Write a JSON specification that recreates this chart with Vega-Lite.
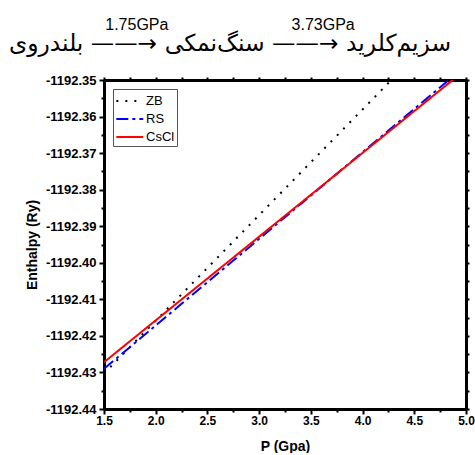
{
  "$schema": "https://vega.github.io/schema/vega-lite/v6.json",
  "width": 362,
  "height": 329,
  "padding": {"left": 8, "top": 17, "right": 5, "bottom": 0},
  "background": "white",
  "title": {
    "text": "1.75GPa\u2003\u2003\u2003\u2003\u2003\u2003\u2003\u2002\u20093.73GPa\u2003\u2003\u2003\u2002\u2005\u2009",
    "subtitle": "بلندروی \u200e——→\u200e سنگ‌نمکی \u200e——→\u200e سزیم‌کلرید",
    "anchor": "middle",
    "frame": "group",
    "dx": -55,
    "font": "Liberation Sans",
    "fontSize": 16,
    "fontWeight": "normal",
    "color": "black",
    "subtitleFont": "DejaVu Sans",
    "subtitleFontSize": 23.4,
    "subtitleColor": "black",
    "subtitlePadding": 0,
    "offset": 1
  },
  "config": {
    "view": {"stroke": null},
    "axis": {
      "domainColor": "black",
      "domainWidth": 3,
      "tickColor": "black",
      "tickWidth": 2,
      "labelFont": "Liberation Sans",
      "labelFontWeight": "bold",
      "labelFontSize": 12,
      "labelColor": "black",
      "labelFlush": false,
      "titleFont": "Liberation Sans",
      "titleFontWeight": "bold",
      "titleFontSize": 14,
      "titleColor": "black",
      "grid": false,
      "labelPadding": 1
    },
    "legend": {
      "labelFont": "Liberation Sans",
      "labelFontSize": 13,
      "labelColor": "black",
      "strokeColor": "#555555"
    }
  },
  "resolve": {"axis": {"x": "independent", "y": "independent"}},
  "data": {
    "values": [
      {"P": 1.5, "H": -1192.4303, "phase": "ZB"},
      {"P": 1.75, "H": -1192.42308, "phase": "ZB"},
      {"P": 2.0, "H": -1192.41585, "phase": "ZB"},
      {"P": 2.25, "H": -1192.40863, "phase": "ZB"},
      {"P": 2.5, "H": -1192.4014, "phase": "ZB"},
      {"P": 2.75, "H": -1192.39418, "phase": "ZB"},
      {"P": 3.0, "H": -1192.38695, "phase": "ZB"},
      {"P": 3.25, "H": -1192.37973, "phase": "ZB"},
      {"P": 3.5, "H": -1192.3725, "phase": "ZB"},
      {"P": 3.75, "H": -1192.36528, "phase": "ZB"},
      {"P": 4.0, "H": -1192.35805, "phase": "ZB"},
      {"P": 4.25, "H": -1192.35083, "phase": "ZB"},
      {"P": 4.5, "H": -1192.3436, "phase": "ZB"},
      {"P": 1.5, "H": -1192.429, "phase": "RS"},
      {"P": 1.75, "H": -1192.42308, "phase": "RS"},
      {"P": 2.0, "H": -1192.41715, "phase": "RS"},
      {"P": 2.25, "H": -1192.41123, "phase": "RS"},
      {"P": 2.5, "H": -1192.4053, "phase": "RS"},
      {"P": 2.75, "H": -1192.39938, "phase": "RS"},
      {"P": 3.0, "H": -1192.39345, "phase": "RS"},
      {"P": 3.25, "H": -1192.38753, "phase": "RS"},
      {"P": 3.5, "H": -1192.3816, "phase": "RS"},
      {"P": 3.75, "H": -1192.37568, "phase": "RS"},
      {"P": 4.0, "H": -1192.36975, "phase": "RS"},
      {"P": 4.25, "H": -1192.36383, "phase": "RS"},
      {"P": 4.5, "H": -1192.3579, "phase": "RS"},
      {"P": 4.75, "H": -1192.35198, "phase": "RS"},
      {"P": 5.0, "H": -1192.34605, "phase": "RS"},
      {"P": 1.5, "H": -1192.4272, "phase": "CsCl"},
      {"P": 1.75, "H": -1192.42148, "phase": "CsCl"},
      {"P": 2.0, "H": -1192.41575, "phase": "CsCl"},
      {"P": 2.25, "H": -1192.41003, "phase": "CsCl"},
      {"P": 2.5, "H": -1192.4043, "phase": "CsCl"},
      {"P": 2.75, "H": -1192.39858, "phase": "CsCl"},
      {"P": 3.0, "H": -1192.39285, "phase": "CsCl"},
      {"P": 3.25, "H": -1192.38713, "phase": "CsCl"},
      {"P": 3.5, "H": -1192.3814, "phase": "CsCl"},
      {"P": 3.75, "H": -1192.37568, "phase": "CsCl"},
      {"P": 4.0, "H": -1192.36995, "phase": "CsCl"},
      {"P": 4.25, "H": -1192.36423, "phase": "CsCl"},
      {"P": 4.5, "H": -1192.3585, "phase": "CsCl"},
      {"P": 4.75, "H": -1192.35278, "phase": "CsCl"},
      {"P": 5.0, "H": -1192.34705, "phase": "CsCl"}
    ]
  },
  "layer": [
    {
      "mark": {"type": "line", "clip": true, "strokeWidth": 2},
      "encoding": {
        "x": {
          "field": "P", "type": "quantitative",
          "scale": {"domain": [1.5, 5.0], "nice": false, "zero": false},
          "axis": {
            "orient": "bottom",
            "title": "P (Gpa)",
            "values": [1.5, 2.0, 2.5, 3.0, 3.5, 4.0, 4.5, 5.0],
            "format": ".1f",
            "tickSize": 5,
            "titlePadding": 13
          }
        },
        "y": {
          "field": "H", "type": "quantitative",
          "scale": {"domain": [-1192.44, -1192.35], "nice": false, "zero": false},
          "axis": {
            "orient": "left",
            "title": "Enthalpy (Ry)",
            "values": [-1192.44, -1192.43, -1192.42, -1192.41, -1192.4, -1192.39, -1192.38, -1192.37, -1192.36, -1192.35],
            "labelExpr": "'-' + format(abs(datum.value), '.2f')",
            "labelFontSize": 13,
            "labelPadding": 3,
            "tickSize": 5,
            "titlePadding": 6
          }
        },
        "color": {
          "field": "phase", "type": "nominal",
          "scale": {"domain": ["ZB", "RS", "CsCl"], "range": ["black", "blue", "red"]},
          "legend": {
            "title": null,
            "orient": "top-left",
            "offset": 9,
            "symbolType": "M-1,0H2.1",
            "symbolSize": 300,
            "symbolStrokeWidth": 2,
            "padding": 2,
            "rowPadding": 1,
            "labelOffset": 11
          }
        },
        "strokeDash": {
          "field": "phase", "type": "nominal",
          "scale": {"domain": ["ZB", "RS", "CsCl"], "range": [[2, 7], [12, 4, 3, 4], [1, 0]]},
          "legend": null
        }
      }
    },
    {
      "mark": {"type": "line", "strokeOpacity": 0},
      "encoding": {
        "x": {
          "field": "P", "type": "quantitative",
          "axis": {
            "orient": "top", "title": null, "labels": false,
            "values": [1.5, 1.75, 2.0, 2.25, 2.5, 2.75, 3.0, 3.25, 3.5, 3.75, 4.0, 4.25, 4.5, 4.75, 5.0],
            "tickSize": 3
          }
        },
        "y": {
          "field": "H", "type": "quantitative",
          "axis": {
            "orient": "right", "title": null, "labels": false,
            "values": [-1192.44, -1192.435, -1192.43, -1192.425, -1192.42, -1192.415, -1192.41, -1192.405, -1192.4, -1192.395, -1192.39, -1192.385, -1192.38, -1192.375, -1192.37, -1192.365, -1192.36, -1192.355, -1192.35],
            "tickSize": 3
          }
        },
        "detail": {"field": "phase", "type": "nominal"}
      }
    },
    {
      "mark": {"type": "line", "strokeOpacity": 0},
      "encoding": {
        "x": {
          "field": "P", "type": "quantitative",
          "axis": {
            "orient": "bottom", "title": null, "labels": false, "domain": false,
            "values": [1.75, 2.25, 2.75, 3.25, 3.75, 4.25, 4.75],
            "tickSize": 3
          }
        },
        "y": {
          "field": "H", "type": "quantitative",
          "axis": {
            "orient": "left", "title": null, "labels": false, "domain": false,
            "values": [-1192.435, -1192.425, -1192.415, -1192.405, -1192.395, -1192.385, -1192.375, -1192.365, -1192.355],
            "tickSize": 3
          }
        },
        "detail": {"field": "phase", "type": "nominal"}
      }
    }
  ]
}
